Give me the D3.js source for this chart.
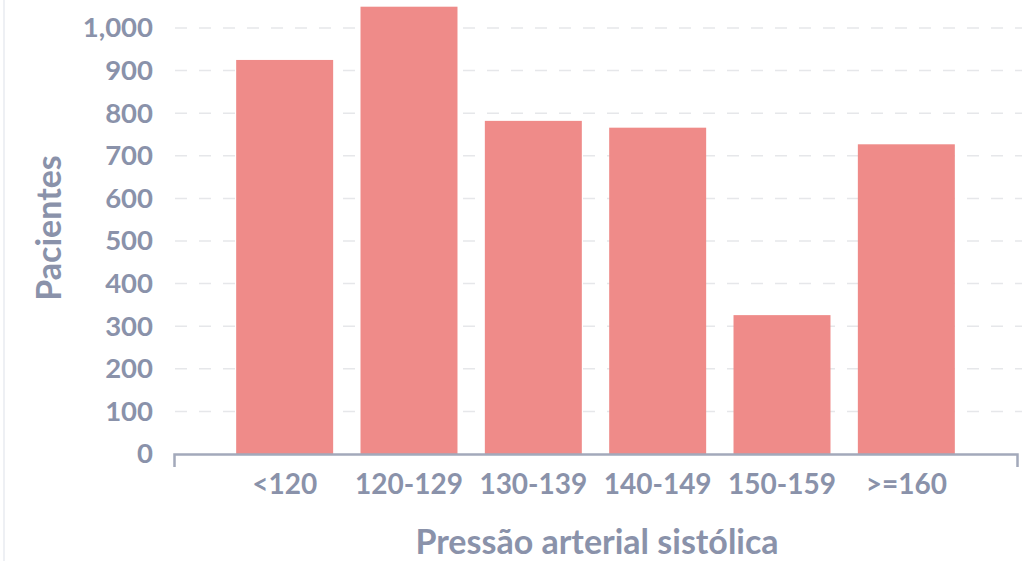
<!DOCTYPE html>
<html><head><meta charset="utf-8">
<script src="https://cdn.jsdelivr.net/npm/d3@7"></script>
<style>
html,body{margin:0;padding:0;background:#fff;}
svg{display:block;font-family:Lato,"Open Sans",sans-serif;}
</style></head>
<body>
<svg id="chart" width="1031" height="561"></svg>
<script>
const categories = ["<120","120-129","130-139","140-149","150-159",">=160"];
const values = [925, 1050, 782, 766, 326, 727];
const yTicks = [0,100,200,300,400,500,600,700,800,900,1000];
const xTitle = "Pressão arterial sistólica";
const yTitle = "Pacientes";

const svg = d3.select("#chart");
const textColor = "#8a92aa";
const barColor = "#ef8b89";
const W = 700;

svg.append("rect").attr("x",3).attr("y",0).attr("width",2).attr("height",561).attr("fill","#eef0f4");

const x = d3.scaleBand().domain(categories).range([174,1017]).paddingInner(0.22).paddingOuter(0.5);
const y = d3.scaleLinear().domain([0,1000]).range([454,28]);

svg.append("g").selectAll("line").data(yTicks.filter(d=>d>0)).join("line")
  .attr("x1",175).attr("x2",1022)
  .attr("y1",d=>y(d)).attr("y2",d=>y(d))
  .attr("stroke","#e6e7ea").attr("stroke-width",1.5).attr("stroke-dasharray","12,12");

svg.append("g").selectAll("rect").data(categories).join("rect")
  .attr("x",d=>x(d)).attr("width",x.bandwidth())
  .attr("y",(d,i)=>y(values[i])).attr("height",(d,i)=>y(0)-y(values[i]))
  .attr("fill",barColor);

const yAxis = svg.append("g").attr("transform","translate(160,0)")
  .call(d3.axisLeft(y).tickValues(yTicks).tickFormat(d3.format(",")).tickSize(0).tickPadding(7));
yAxis.select(".domain").remove();
yAxis.selectAll("text").attr("fill",textColor).attr("font-size",27.5).attr("font-weight",W)
  .attr("font-family","Lato, sans-serif");

const xAxis = svg.append("g").attr("transform","translate(0,454)")
  .call(d3.axisBottom(x).tickSize(0).tickSizeOuter(13).tickPadding(20));
xAxis.select(".domain").attr("stroke","#a3a9bb").attr("stroke-width",2.5);
xAxis.selectAll("text").attr("fill",textColor).attr("font-size",28).attr("font-weight",W)
  .attr("font-family","Lato, sans-serif");

svg.append("text").attr("x",597).attr("y",554).attr("text-anchor","middle")
  .attr("fill",textColor).attr("font-size",34).attr("font-weight",W).text(xTitle);
svg.append("text").attr("transform","translate(61,228) rotate(-90)").attr("text-anchor","middle")
  .attr("fill",textColor).attr("font-size",34).attr("font-weight",W).text(yTitle);
</script>
</body></html>
